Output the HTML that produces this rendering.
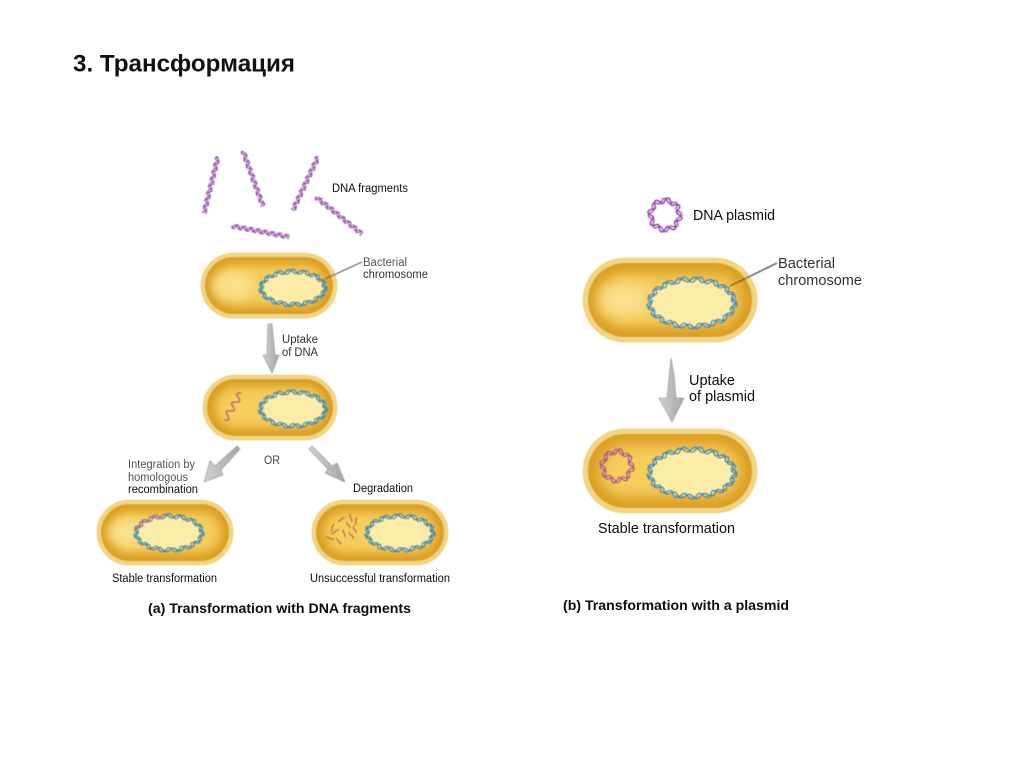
<!DOCTYPE html>
<html><head><meta charset="utf-8"><style>
html,body{margin:0;padding:0;background:#fff;width:1024px;height:767px;overflow:hidden}
svg{display:block}
text{font-family:"Liberation Sans",sans-serif;fill:#111}
</style></head><body>
<svg id="s" xmlns="http://www.w3.org/2000/svg" width="1024" height="767" viewBox="0 0 1024 767">
<defs>
<filter id="b1" x="-30%" y="-30%" width="160%" height="160%"><feGaussianBlur stdDeviation="5"/></filter>
<filter id="b2" x="-30%" y="-30%" width="160%" height="160%"><feGaussianBlur stdDeviation="7"/></filter>
<filter id="soft" x="-5%" y="-5%" width="110%" height="110%"><feGaussianBlur stdDeviation="0.4"/></filter>
<filter id="softt" x="-5%" y="-5%" width="110%" height="110%"><feGaussianBlur stdDeviation="0.25"/></filter>
<linearGradient id="ar" x1="0" y1="0" x2="1" y2="0"><stop offset="0" stop-color="#d2d2d2"/><stop offset="1" stop-color="#a6a6a6"/></linearGradient>
</defs>
<text x="73" y="71.5" font-size="24" font-weight="bold" textLength="222" lengthAdjust="spacingAndGlyphs" style="fill:#111">3. Трансформация</text>
<g id="art" filter="url(#soft)"></g>
<g filter="url(#softt)">
<g font-size="11.5">
<text x="332" y="192" textLength="76" lengthAdjust="spacingAndGlyphs">DNA fragments</text>
<text x="363" y="266" textLength="44" lengthAdjust="spacingAndGlyphs" style="fill:#555">Bacterial</text>
<text x="363" y="278" textLength="65" lengthAdjust="spacingAndGlyphs" style="fill:#333">chromosome</text>
<text x="282" y="343" textLength="36" lengthAdjust="spacingAndGlyphs" style="fill:#333">Uptake</text>
<text x="282" y="356" textLength="36" lengthAdjust="spacingAndGlyphs" style="fill:#333">of DNA</text>
<text x="264" y="464" textLength="16" lengthAdjust="spacingAndGlyphs" style="fill:#444">OR</text>
<text x="128" y="468" textLength="67" lengthAdjust="spacingAndGlyphs" style="fill:#555">Integration by</text>
<text x="128" y="481" textLength="60" lengthAdjust="spacingAndGlyphs" style="fill:#555">homologous</text>
<text x="128" y="493" textLength="70" lengthAdjust="spacingAndGlyphs">recombination</text>
<text x="353" y="492" textLength="60" lengthAdjust="spacingAndGlyphs">Degradation</text>
<text x="112" y="582" textLength="105" lengthAdjust="spacingAndGlyphs">Stable transformation</text>
<text x="310" y="582" textLength="140" lengthAdjust="spacingAndGlyphs">Unsuccessful transformation</text>
</g>
<text x="148" y="613" font-size="14" font-weight="bold" textLength="263" lengthAdjust="spacingAndGlyphs">(a) Transformation with DNA fragments</text>
<g font-size="14.5">
<text x="693" y="220" textLength="82" lengthAdjust="spacingAndGlyphs">DNA plasmid</text>
<text x="778" y="268" textLength="57" lengthAdjust="spacingAndGlyphs" style="fill:#333">Bacterial</text>
<text x="778" y="285" textLength="84" lengthAdjust="spacingAndGlyphs" style="fill:#333">chromosome</text>
<text x="689" y="385" textLength="46" lengthAdjust="spacingAndGlyphs">Uptake</text>
<text x="689" y="401" textLength="66" lengthAdjust="spacingAndGlyphs">of plasmid</text>
<text x="598" y="533" textLength="137" lengthAdjust="spacingAndGlyphs">Stable transformation</text>
</g>
<text x="563" y="610" font-size="14" font-weight="bold" textLength="226" lengthAdjust="spacingAndGlyphs">(b) Transformation with a plasmid</text>
</g>
</svg>
<script>
var out='';
function cell(x,y,w,h,lightLeft){
  var r=h/2,b=h>70?5:4,id='c'+Math.round(x)+'_'+Math.round(y);
  out+='<rect x="'+x+'" y="'+y+'" width="'+w+'" height="'+h+'" rx="'+r+'" fill="#f1d583" stroke="#e8c865" stroke-width="0.6"/>';
  out+='<clipPath id="'+id+'"><rect x="'+(x+b)+'" y="'+(y+b)+'" width="'+(w-2*b)+'" height="'+(h-2*b)+'" rx="'+(r-b)+'"/></clipPath>';
  out+='<g clip-path="url(#'+id+')"><rect x="'+x+'" y="'+y+'" width="'+w+'" height="'+h+'" fill="#d99c20"/>';
  var m=h>70?16:12;
  out+='<rect x="'+(x+m)+'" y="'+(y+m)+'" width="'+(w-2*m)+'" height="'+(h-2*m)+'" rx="'+(r-m)+'" fill="#f6ce5c" filter="url(#'+(h>70?'b2':'b1')+')"/>';
  if(lightLeft){out+='<ellipse cx="'+(x+w*0.24)+'" cy="'+(y+h*0.5)+'" rx="'+(w*0.15)+'" ry="'+(h*0.2)+'" fill="#f9e08c" filter="url(#'+(h>70?'b2':'b1')+')"/>';}
  out+='</g>';
}
function ring(cx,cy,rx,ry,n,a,c1,c2,w,fill,ang0,ang1,c3){
  if(fill){out+='<ellipse cx="'+cx+'" cy="'+cy+'" rx="'+rx+'" ry="'+ry+'" fill="'+fill+'"/>';}
  [[1,c2,1.9,0.8],[0,c1,0,1]].forEach(function(s){
    var d='',d2='';
    for(var i=0;i<=360;i++){
      var t=i/360*2*Math.PI;
      var rr=s[3]*a*Math.sin(n*t+s[2]);
      var px=cx+(rx+rr)*Math.cos(t),py=cy+(ry+rr)*Math.sin(t);
      d+=(i?'L':'M')+px.toFixed(2)+' '+py.toFixed(2);
      if(c3&&i>=ang0&&i<=ang1){d2+=(i>ang0?'L':'M')+px.toFixed(2)+' '+py.toFixed(2);}
    }
    out+='<path d="'+d+'Z" fill="none" stroke="'+s[1]+'" stroke-width="'+w+'"/>';
    if(d2)out+='<path d="'+d2+'" fill="none" stroke="'+c3+'" stroke-width="'+w+'"/>';
  });
}
function strand(x1,y1,x2,y2,waves,a,c1,c2,w){
  var L=Math.hypot(x2-x1,y2-y1),ux=(x2-x1)/L,uy=(y2-y1)/L,nx=-uy,ny=ux;
  [[c2,1.9,0.8],[c1,0,1]].forEach(function(s){
    if(!s[0])return;
    var d='';
    for(var i=0;i<=120;i++){
      var f=i/120,o=s[2]*a*Math.sin(f*waves*2*Math.PI+s[1]);
      var px=x1+ux*L*f+nx*o,py=y1+uy*L*f+ny*o;
      d+=(i?'L':'M')+px.toFixed(2)+' '+py.toFixed(2);
    }
    out+='<path d="'+d+'" fill="none" stroke="'+s[0]+'" stroke-width="'+w+'" stroke-linecap="round"/>';
  });
}
function poly(p){out+='<polygon points="'+p+'" fill="url(#ar)" stroke="#8a8a8a" stroke-width="0.6"/>';}
var T='#2690ab',T2='#2b7f9c',F='#fbeda8',P='#7a2f90',P2='#8f4aa6';
/* fragments */
strand(218,157,204,213,8,2.4,P,P2,1);
strand(243,151,263,206,8,2.4,P,P2,1);
strand(318,157,293,210,8,2.4,P,P2,1);
strand(316,197,362,234,8,2.4,P,P2,1);
strand(232,226,289,237,8,2.4,P,P2,1);
/* plasmid */
ring(665,215,14.5,14.5,8,2.8,'#84339a','#9a50ae',1.4);
/* cells A */
cell(201,253,136,65,true);
ring(293,288,32,16.5,15,2.4,T,T2,1.4,F);
out+='<line x1="325" y1="279" x2="362" y2="262" stroke="#333" stroke-width="0.9"/>';
poly('268,324 272,324 275,355 279,355 272,373 263,355 267,355');
cell(203,375,134,65,false);
ring(293,409,32.5,17,15,2.4,T,T2,1.4,F);
strand(225,420,241,393,3,3,'#a2506a',null,1.3);
poly('237,446 240,449 221,470 223,475 204,482 210,461 215,466');
poly('309,449 312,446 332,466 337,463 345,482 325,473 328,469');
cell(97,500,136,65,true);
ring(169,533,33,17,15,2.4,T,T2,1.4,F,195,265,'#a56a8c');
cell(312,500,136,65,false);
ring(400,533,33,17,15,2.4,T,T2,1.4,F);
[[62,108,72,88],[85,78,103,68],[120,58,125,80],[140,68,135,90],[110,82,120,98],[100,105,105,125],[118,112,130,130],[50,125,70,135],[65,115,85,105],[80,130,92,148],[130,95,138,112]].forEach(function(q){
  strand(310+q[0]/3,495+q[1]/3,310+q[2]/3,495+q[3]/3,1,0.5,'#b56a55',null,1.4);
});
/* cells B */
cell(583,258,174,84,true);
ring(692,303,42.5,23.5,17,2.8,'#2a93b5','#2a82a8',1.5,F);
out+='<line x1="730" y1="286" x2="777" y2="263" stroke="#222" stroke-width="1"/>';
poly('671,358 674,375 676,398 684,398 672,422 659,398 667,398');
cell(583,429,174,84,false);
ring(692,473,42.5,23.5,17,2.8,T,'#2a82a8',1.5,F);
ring(617,466,14.5,14.5,8,2.8,'#a83f8f','#b4508c',1.4);
document.getElementById('art').innerHTML=out;
</script>
</body></html>
